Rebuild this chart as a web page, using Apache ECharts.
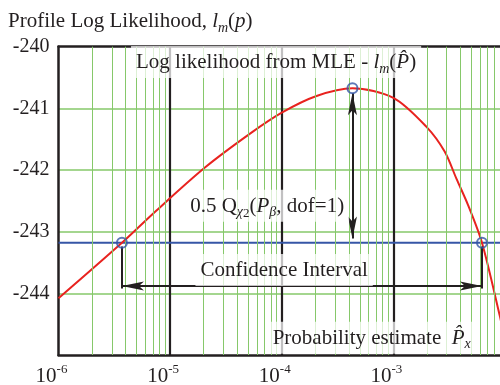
<!DOCTYPE html>
<html>
<head>
<meta charset="utf-8">
<script src="https://cdn.jsdelivr.net/npm/echarts@6/dist/echarts.min.js"></script>
<style>
html, body { margin: 0; padding: 0; background: #fff; }
#chart { width: 500px; height: 385px; }
</style>
</head>
<body>
<div id="chart"></div>
<script>
// values
var probability = [1e-6, 3.7e-6, 7.3e-6, 2.05e-5, 5.2e-5, 1e-4, 2.05e-4, 4.3e-4, 1e-3, 1.98e-3, 2.88e-3, 3.67e-3, 4.67e-3, 6.22e-3, 8.97e-3, 1e-2];
var logLik = [-244.08, -243.18, -242.68, -241.96, -241.41, -241.07, -240.80, -240.675, -240.83, -241.30, -241.70, -242.14, -242.57, -243.18, -244.36, -244.75];
var mle = [4.3e-4, -240.675];
var ciLevel = -243.18;
var ciBounds = [3.7e-6, 6.22e-3];
var ciArrowY = -243.88;
var xRange = [1e-6, 1e-2];
var yRange = [-245, -240];
var yTicks = [-240, -241, -242, -243, -244];
var xTickExps = [-6, -5, -4, -3];

var ink = '#231f20';
var green = '#86c86a';
var red = '#e8231f';
var blue = '#3656a6';
var serif = 'Liberation Serif';
// arrow head with its tip at the centre of the symbol box
var dart = 'path://M5,22L10,44L5,39L0,44ZM5,0';

// minor grid at 2..9 in each decade
var minorX = [];
for (var e = -6; e < -2; e++) {
    for (var k = 2; k <= 9; k++) {
        var v = k * Math.pow(10, e);
        minorX.push([{ coord: [v, yRange[0]] }, { coord: [v, yRange[1]] }]);
    }
}

var curve = probability.map(function (p, i) { return [p, logLik[i]]; });

var base = { fontFamily: serif, fontSize: 21, fontWeight: 'normal', color: ink };
function txt(extra) {
    var o = {};
    for (var key in base) o[key] = base[key];
    for (var key2 in extra) o[key2] = extra[key2];
    return o;
}
var rich = {
    t: txt({ lineHeight: 27 }),
    it: txt({ fontStyle: 'italic', lineHeight: 27 }),
    sub: txt({ fontStyle: 'italic', fontSize: 14, verticalAlign: 'bottom' }),
    subr: txt({ fontSize: 13, verticalAlign: 'bottom' }),
    sup: txt({ fontSize: 13, verticalAlign: 'top' })
};

function note(x, y, text) {
    return {
        coord: [x, y],
        symbolSize: 0,
        label: {
            show: true,
            position: 'inside',
            formatter: text,
            backgroundColor: 'rgba(255,255,255,0.72)',
            padding: [3, 5, 2, 5],
            rich: rich
        }
    };
}

var chart = echarts.init(document.getElementById('chart'));
var option = {
    animation: false,
    title: {
        left: 3,
        top: 3,
        text: '{t|Profile Log Likelihood, }{it|l}{sub|m}{t|(}{it|p}{t|)}',
        textStyle: { fontWeight: 'normal', rich: rich }
    },
    grid: { left: 58.5, top: 46.7, right: -5, bottom: 30, outerBoundsMode: 'none', containLabel: false },
    xAxis: [{
        type: 'log',
        logBase: 10,
        min: xRange[0],
        max: xRange[1],
        axisLine: { lineStyle: { color: ink, width: 2.5 } },
        axisTick: { show: false },
        splitLine: { show: true, showMinLine: false, lineStyle: { color: ink, width: 2.2 } },
        axisLabel: {
            margin: 8,
            padding: [0, 14, 0, 0],
            formatter: function (v) {
                var ex = Math.round(Math.log10(v));
                if (xTickExps.indexOf(ex) < 0) return '';
                return '{t|10}{sup|' + ex + '}';
            },
            rich: rich
        }
    }, {
        type: 'log',
        logBase: 10,
        min: xRange[0],
        max: xRange[1],
        position: 'top',
        axisLine: { lineStyle: { color: ink, width: 2.5 } },
        axisTick: { show: false },
        axisLabel: { show: false },
        splitLine: { show: false }
    }],
    yAxis: {
        type: 'value',
        min: yRange[0],
        max: yRange[1],
        interval: 1,
        axisLine: { show: true, lineStyle: { color: ink, width: 2.5 } },
        axisTick: { show: false },
        splitLine: { show: true, showMinLine: false, showMaxLine: false, lineStyle: { color: green, width: 1.5 } },
        axisLabel: {
            margin: 9,
            fontFamily: serif,
            fontSize: 20,
            color: ink,
            formatter: function (v) {
                return yTicks.indexOf(v) < 0 ? '' : String(v);
            }
        }
    },
    series: [{
        name: 'minor grid',
        type: 'line',
        data: [],
        z: 1,
        markLine: {
            silent: true,
            symbol: ['none', 'none'],
            label: { show: false },
            lineStyle: { color: green, width: 1, type: 'solid' },
            data: minorX
        }
    }, {
        name: 'confidence level',
        type: 'line',
        data: [[xRange[0], ciLevel], [xRange[1], ciLevel]],
        showSymbol: false,
        lineStyle: { color: blue, width: 2 },
        z: 3
    }, {
        name: 'profile log likelihood',
        type: 'line',
        data: curve,
        smooth: 0.3,
        showSymbol: false,
        lineStyle: { color: red, width: 2 },
        z: 4
    }, {
        name: 'arrows',
        type: 'line',
        data: [],
        z: 5,
        markLine: {
            silent: true,
            symbol: [dart, dart],
            symbolSize: [9, 44],
            label: { show: false },
            lineStyle: { color: ink, width: 2, type: 'solid' },
            itemStyle: { color: ink },
            data: [
                [{ coord: [mle[0], mle[1] - 0.08] }, { coord: [mle[0], ciLevel + 0.07] }],
                [{ coord: [ciBounds[0], ciArrowY] }, { coord: [ciBounds[1], ciArrowY] }],
                [{ coord: [ciBounds[0], ciLevel - 0.06], symbol: 'none' }, { coord: [ciBounds[0], ciArrowY - 0.04], symbol: 'none' }],
                [{ coord: [ciBounds[1], ciLevel - 0.06], symbol: 'none' }, { coord: [ciBounds[1], ciArrowY - 0.04], symbol: 'none' }]
            ]
        }
    }, {
        name: 'points',
        type: 'scatter',
        data: [[ciBounds[0], ciLevel], mle, [ciBounds[1], ciLevel]],
        symbol: 'circle',
        symbolSize: 10,
        itemStyle: { color: 'rgba(255,255,255,0)', borderColor: blue, borderWidth: 2 },
        z: 6
    }, {
        name: 'notes',
        type: 'line',
        data: [],
        z: 7,
        markPoint: {
            silent: true,
            symbol: 'circle',
            data: [
                note(8.9e-5, -240.25, '{t|Log likelihood from MLE - }{it|l}{sub|m}{t|(}{it|P\u0302}{t|)}'),
                note(7.4e-5, -242.58, '{t|0.5 Q}{sub|\u03c7}{subr|2}{t|(}{it|P}{sub|\u03b2}{t|, dof=1)}'),
                note(1.05e-4, -243.62, '{t|Confidence Interval}'),
                note(6.4e-4, -244.72, '{t|Probability estimate  }{it|P\u0302}{sub|x}')
            ]
        }
    }]
};
chart.setOption(option);
</script>
</body>
</html>
